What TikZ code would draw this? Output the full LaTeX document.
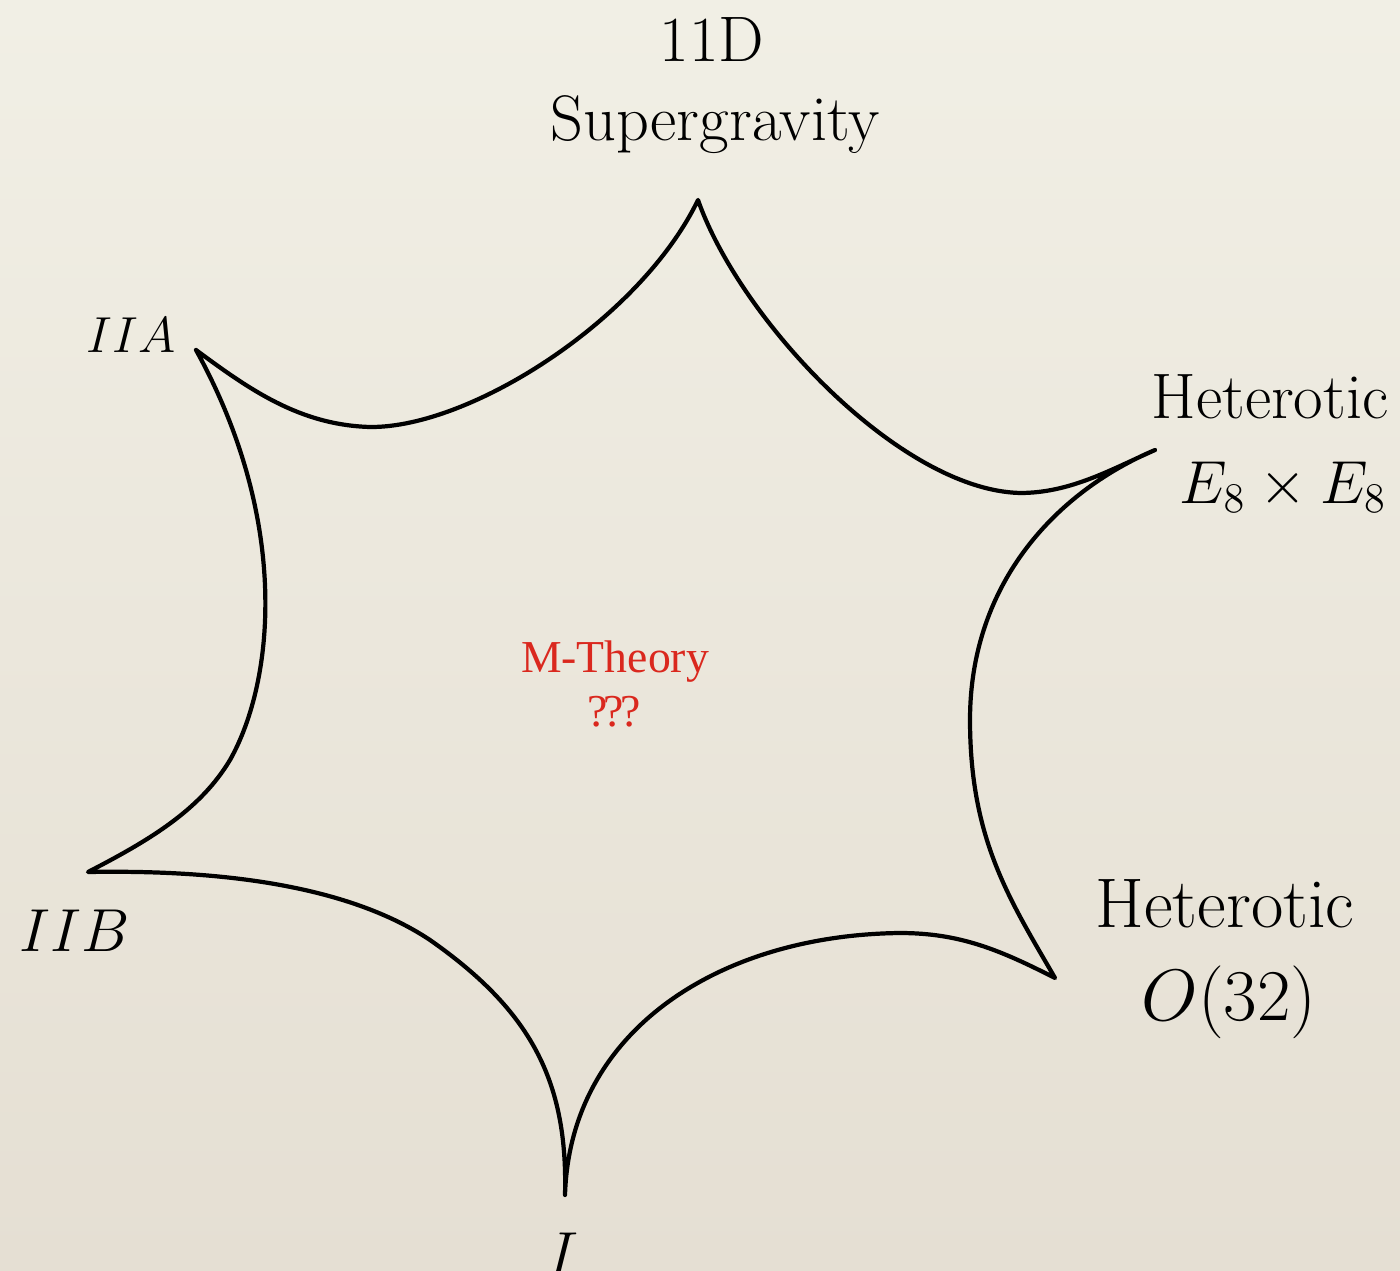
\documentclass[tikz,border=0pt]{standalone}
\usepackage{fontspec}
\newfontfamily\redfont{Liberation Serif}
\definecolor{paperTop}{RGB}{241,239,229}
\definecolor{paperMid}{RGB}{238,235,224}
\definecolor{paperBot}{RGB}{229,223,211}
\definecolor{mred}{RGB}{218,40,30}

\begin{document}
\begin{tikzpicture}[
  x=0.1mm,y=-0.1mm,
  vertex/.style={font=\fontsize{18.3}{22}\selectfont,inner sep=0pt},
  centre/.style={text=mred,font=\redfont\fontsize{13}{15}\selectfont,inner sep=0pt},
  edge/.style={line width=1.2pt,line join=round,line cap=round}
]
  \useasboundingbox (0,0) rectangle (1400,1270);
  \shade[top color=paperTop,middle color=paperMid,bottom color=paperBot]
    (0,0) rectangle (1400,1270);

  % cusps of the star
  \coordinate (sugra) at (698,200);
  \coordinate (hetE) at (1155,450);
  \coordinate (hetO) at (1055,978);
  \coordinate (typeI) at (565,1195);
  \coordinate (iib) at (88,872);
  \coordinate (iia) at (196,350);

  \draw[edge] (iia) .. controls (250,390) and (300,425) .. (370,427)
    .. controls (470,428) and (640,320) .. (sugra)
    .. controls (740,320) and (900,490) .. (1020,493)
    .. controls (1070,493) and (1110,470) .. (hetE)
    .. controls (1060,490) and (970,580) .. (970,720)
    .. controls (970,840) and (1010,900) .. (hetO)
    .. controls (1000,950) and (960,933) .. (900,933)
    .. controls (720,935) and (570,1030) .. (typeI)
    .. controls (568,1080) and (530,1010) .. (430,940)
    .. controls (340,880) and (200,870) .. (iib)
    .. controls (150,840) and (200,810) .. (230,760)
    .. controls (275,680) and (290,520) .. (iia);

  % labels
  \node[vertex] (l11d) at (712,40) {11D};
  \node[vertex] (lsugra) at (715,125) {Supergravity};
  \node[vertex,font=\fontsize{14}{17}\selectfont] (liia) at (131,335) {$IIA$};
  \node[vertex] (lhetE) at (1270,397) {Heterotic};
  \node[vertex,font=\fontsize{17.4}{20}\selectfont] (lE8) at (1283,487) {$E_8\times E_8$};
  \node[vertex,font=\fontsize{20}{24}\selectfont] (lhetO) at (1225,904) {Heterotic};
  \node[vertex,font=\fontsize{20.2}{24}\selectfont] (lO32) at (1229,1002) {$O(32)$};
  \node[vertex,font=\fontsize{17.2}{21}\selectfont] (liib) at (75,931) {$IIB$};
  \node[vertex] (lI) at (563,1254) {$I$};
  \node[centre] (mth) at (615,662) {M-Theory};
  \node[centre] (qqq) at (614,712) {?\kern-.09em?\kern-.09em?};
\end{tikzpicture}
\end{document}
